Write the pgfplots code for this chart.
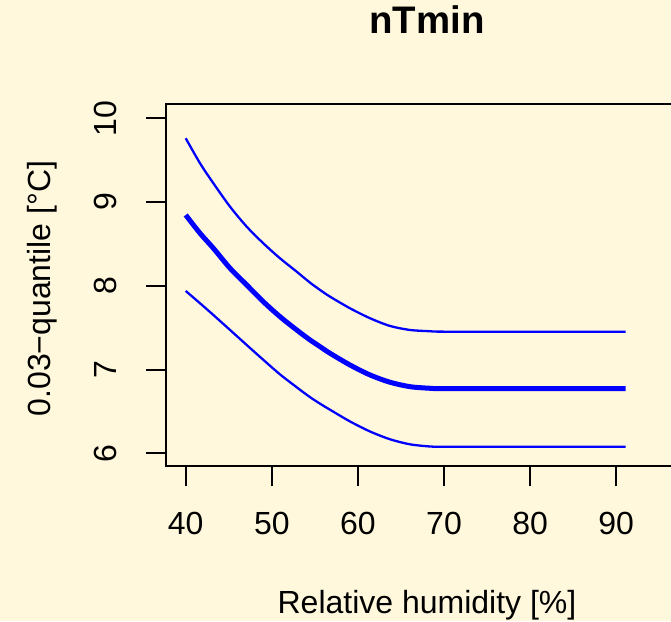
\documentclass[border=0pt]{standalone}
\usepackage{pgfplots}
\pgfplotsset{compat=1.18}
\usepackage{fontspec}
\setmainfont{Liberation Sans}
\definecolor{panelbg}{RGB}{255,248,220}

% fitted 0.03-quantile of nTmin against relative humidity, with its band
\pgfplotstableread{
rh     q
40.00  9.761
41.66  9.463
43.21  9.224
45.15  8.944
47.08  8.706
49.01  8.507
50.95  8.328
52.89  8.168
54.44  8.037
55.60  7.950
56.76  7.870
59.08  7.731
61.41  7.612
63.73  7.520
66.05  7.472
68.37  7.457
70.00  7.452
80.00  7.452
91.10  7.452
}\upperband
\pgfplotstableread{
rh     q
40.00  8.845
41.66  8.627
43.21  8.448
45.15  8.209
47.08  8.010
49.01  7.810
50.95  7.631
52.89  7.472
54.44  7.353
55.60  7.273
56.76  7.194
59.08  7.054
61.41  6.935
63.73  6.848
66.05  6.795
68.37  6.776
70.00  6.772
80.00  6.772
91.10  6.772
}\fitted
\pgfplotstableread{
rh     q
40.00  7.938
41.66  7.791
43.21  7.651
45.15  7.472
47.08  7.293
49.01  7.116
50.95  6.942
52.89  6.788
54.44  6.670
55.60  6.592
56.76  6.520
59.08  6.380
61.41  6.260
63.73  6.167
66.05  6.107
68.37  6.081
70.00  6.079
80.00  6.079
91.10  6.079
}\lowerband

\begin{document}
\begin{tikzpicture}[x=1pt,y=1pt]
\fill[panelbg] (0,0) rectangle (671,621);
\useasboundingbox (0,0) rectangle (671,621);
\begin{scope}
\clip (0,0) rectangle (671,621);
\begin{axis}[
  at={(166pt,155pt)}, anchor=south west,
  scale only axis,
  width=522pt, height=362pt,
  xmin=37.71, xmax=98.34,
  ymin=5.848, ymax=10.17,
  axis line style={line width=2.5pt, black},
  xtick={40,50,...,90},
  ytick={6,7,8,9,10},
  tick pos=left,
  tick align=outside,
  major tick length=20pt,
  tick style={line width=2pt, black},
  /pgf/number format/assume math mode=true,
  tick label style={font=\fontsize{32}{38}\selectfont, inner sep=0pt, outer sep=0pt},
  xticklabel style={anchor=base, yshift=-48pt},
  yticklabel style={rotate=90, anchor=base, yshift=30pt},
  title={nTmin},
  title style={font=\fontsize{38.4}{46}\selectfont\bfseries, anchor=base,
    inner sep=0pt, at={(axis description cs:0.5,1.1787)}},
  xlabel={Relative humidity [\%]},
  xlabel style={font=\fontsize{32}{38}\selectfont, anchor=base,
    inner sep=0pt, at={(axis description cs:0.5,-0.4061)}},
  ylabel={0.03−quantile [°C]},
  ylabel style={font=\fontsize{32}{38}\selectfont, anchor=base, rotate=0,
    inner sep=0pt, at={(axis description cs:-0.2222,0.49)}},
  clip=false,
]
\addplot[blue, line width=2.3pt, smooth, tension=0.5] table[x=rh, y=q] {\upperband};
\addplot[blue, line width=5pt, smooth, tension=0.5] table[x=rh, y=q] {\fitted};
\addplot[blue, line width=2.3pt, smooth, tension=0.5] table[x=rh, y=q] {\lowerband};
\end{axis}
\end{scope}
\end{tikzpicture}
\end{document}
